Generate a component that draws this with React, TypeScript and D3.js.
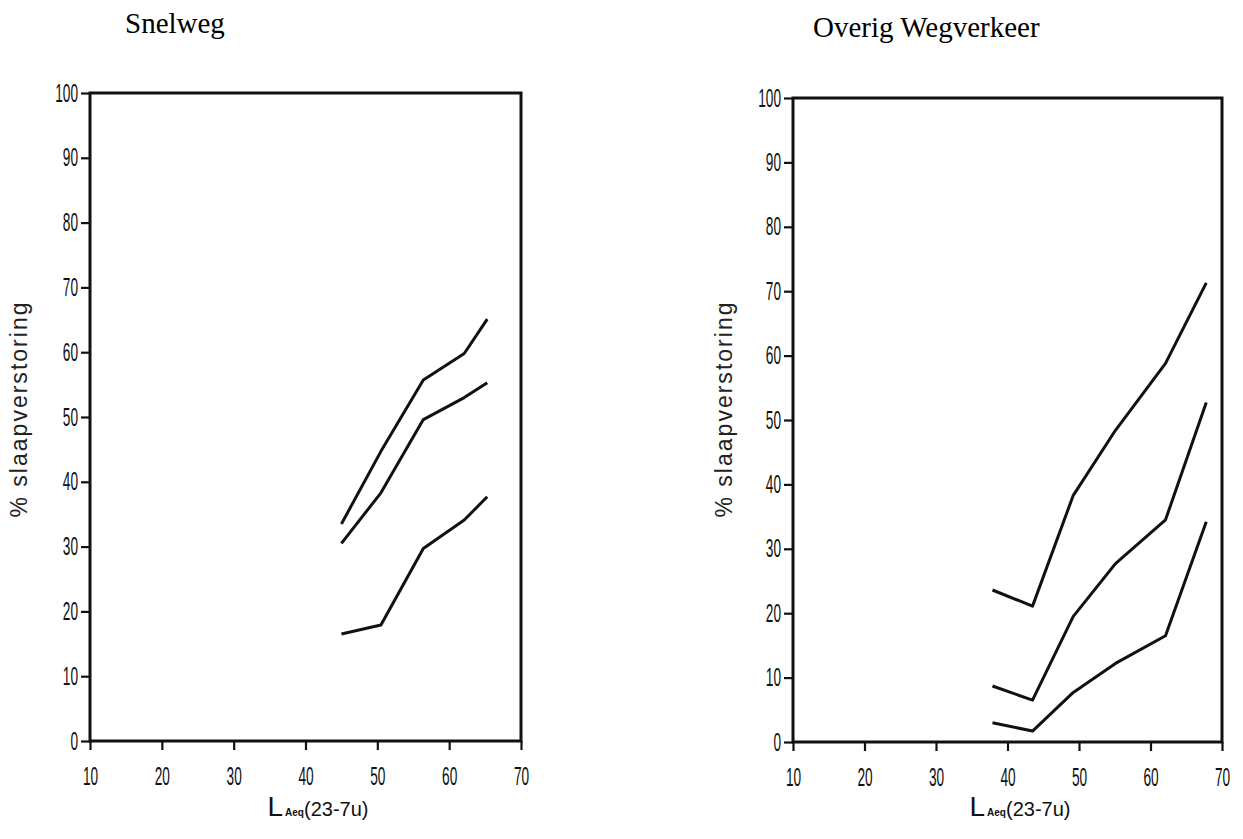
import React, { useRef, useEffect } from 'react'
import * as d3 from 'd3'

// x values (LAeq 23-7u) and % slaapverstoring for each curve
const snelwegX = [45, 50.5, 56.4, 62.1, 65.3]
const snelwegHoog = [33.5, 44.7, 55.7, 59.8, 65.1]
const snelwegMidden = [30.5, 38.3, 49.6, 53.0, 55.3]
const snelwegLaag = [16.5, 17.9, 29.7, 34.1, 37.7]

const overigX = [37.9, 43.5, 49.2, 55.1, 62.1, 67.8]
const overigHoog = [23.6, 21.1, 38.3, 48.4, 58.8, 71.3]
const overigMidden = [8.7, 6.5, 19.5, 27.7, 34.5, 52.7]
const overigLaag = [3.0, 1.7, 7.7, 12.2, 16.5, 34.2]

const xTicks = [10, 20, 30, 40, 50, 60, 70]
const yTicks = [0, 10, 20, 30, 40, 50, 60, 70, 80, 90, 100]

const titles = ['Snelweg', 'Overig Wegverkeer']
const yTitle = '% slaapverstoring'

const W = 1243
const H = 839

const App = () => {
  const svgRef = useRef<SVGSVGElement>(null)

  useEffect(() => {
    const svg = d3.select(svgRef.current)
    svg.selectAll('*').remove()

    const panels = [
      { title: titles[0], tx: 125, ty: 33, x0: 90, x1: 521, y0: 741, y1: 93, lx: 20, xs: snelwegX, series: [snelwegHoog, snelwegMidden, snelwegLaag] },
      { title: titles[1], tx: 813, ty: 37, x0: 793, x1: 1222, y0: 742, y1: 98, lx: 725, xs: overigX, series: [overigHoog, overigMidden, overigLaag] },
    ]

    const tickFont = '"Liberation Sans Narrow", "Arial Narrow", sans-serif'

    panels.forEach(p => {
      const x = d3.scaleLinear().domain([10, 70]).range([p.x0, p.x1])
      const y = d3.scaleLinear().domain([0, 100]).range([p.y0, p.y1])
      const g = svg.append('g')

      // title
      g.append('text')
        .attr('x', p.tx).attr('y', p.ty)
        .attr('font-family', '"Liberation Serif", "Times New Roman", serif')
        .attr('font-size', 29)
        .text(p.title)

      // frame
      g.append('rect')
        .attr('x', p.x0).attr('y', p.y1)
        .attr('width', p.x1 - p.x0).attr('height', p.y0 - p.y1)
        .attr('fill', 'none').attr('stroke', '#111').attr('stroke-width', 3)

      const yAxis = g.append('g')
        .attr('transform', `translate(${p.x0},0)`)
        .call(d3.axisLeft(y).tickValues(yTicks).tickSize(9).tickPadding(3))
      yAxis.select('.domain').remove()
      yAxis.selectAll('line').attr('stroke', '#111').attr('stroke-width', 2.2)
      yAxis.selectAll('text')
        .attr('font-family', tickFont).attr('font-size', 25).attr('fill', '#111')
        .attr('textLength', (d: any) => String(d).length * 7.6)
        .attr('lengthAdjust', 'spacingAndGlyphs')

      const xAxis = g.append('g')
        .attr('transform', `translate(0,${p.y0})`)
        .call(d3.axisBottom(x).tickValues(xTicks).tickSize(9).tickPadding(17))
      xAxis.select('.domain').remove()
      xAxis.selectAll('line').attr('stroke', '#111').attr('stroke-width', 2.2)
      xAxis.selectAll('text')
        .attr('font-family', tickFont).attr('font-size', 25).attr('fill', '#111')
        .attr('textLength', (d: any) => String(d).length * 7.6)
        .attr('lengthAdjust', 'spacingAndGlyphs')

      // x title: L Aeq(23-7u)
      const cx = (p.x0 + p.x1) / 2
      const xt = g.append('text')
        .attr('x', cx - 38).attr('y', 816)
        .attr('font-family', tickFont).attr('fill', '#111')
      xt.append('tspan').attr('font-size', 28).text('L')
      xt.append('tspan').attr('font-size', 10).attr('font-weight', 'bold').attr('dx', 2).text('Aeq')
      xt.append('tspan').attr('font-size', 20).text('(23-7u)')

      // y title
      g.append('text')
        .attr('transform', `translate(${p.lx + 7},410) rotate(-90)`)
        .attr('text-anchor', 'middle')
        .attr('font-family', '"Liberation Sans", Arial, sans-serif')
        .attr('font-size', 23)
        .attr('fill', '#222')
        .attr('textLength', 215)
        .attr('lengthAdjust', 'spacing')
        .text(yTitle)

      // curves
      const line = d3.line<number>()
        .x((_, i) => x(p.xs[i]))
        .y(d => y(d))
      p.series.forEach(s => {
        g.append('path')
          .attr('d', line(s) as string)
          .attr('fill', 'none')
          .attr('stroke', '#111')
          .attr('stroke-width', 3)
          .attr('stroke-linejoin', 'round')
      })
    })
  }, [])

  return (
    <svg ref={svgRef} width={W} height={H}
      style={{ position: 'absolute', left: 0, top: 0, background: '#fff' }} />
  )
}

export default App
